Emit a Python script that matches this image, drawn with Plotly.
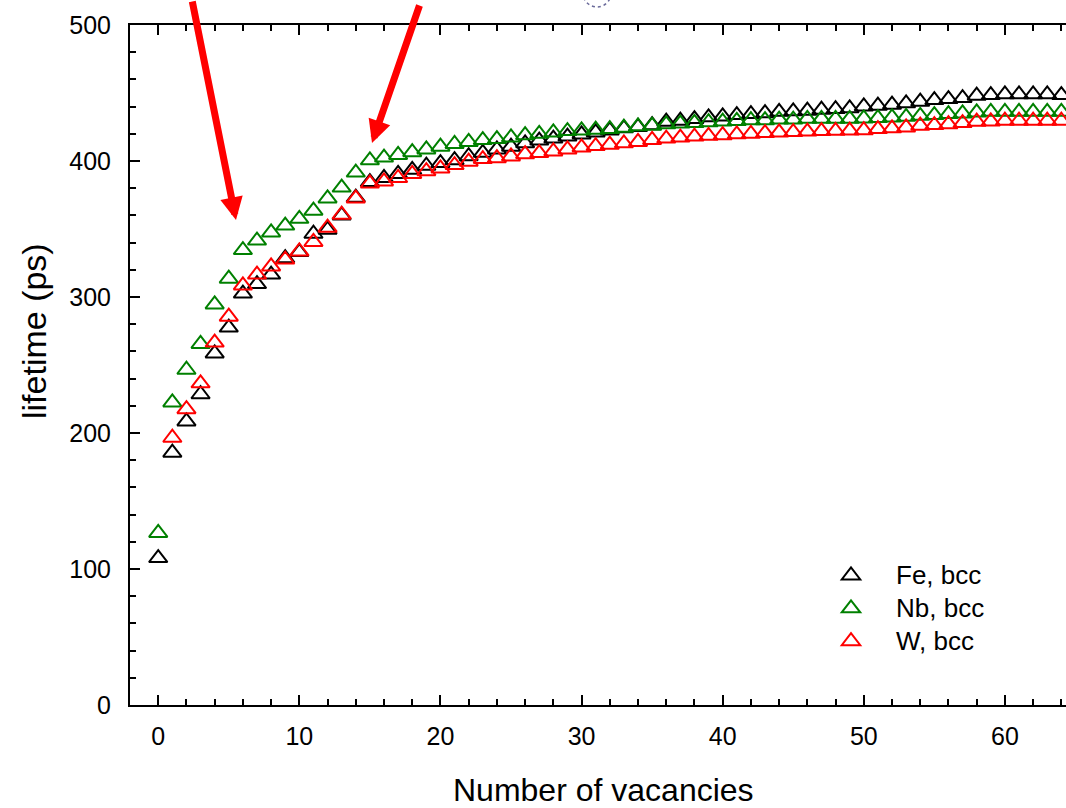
import plotly.graph_objects as go

# ---- data ----
x_fe = list(range(0, 65))
fe = [108, 185.5, 208.5, 228.5, 258.5, 277.5, 302.5, 309.5, 316.5, 328.5,
      333, 346.5, 349.5, 360, 373, 384.5, 387.5, 390.5, 393.5, 396.5,
      398.5, 400.6, 403.5, 406, 408.5, 410.5, 413, 415, 416.5, 418,
      419.5, 421, 422.5, 424, 425, 426.3, 428.9, 429.6, 430.8, 432.1,
      432.8, 433.8, 434.5, 435.2, 436.2, 436.5, 437, 437.7, 438.2, 438.7,
      440.1, 440.7, 441.4, 442.4, 443.6, 444.8, 445.5, 446.3, 448, 448.5,
      449, 449, 449, 449, 448.5]

x_nb = list(range(0, 65))
nb = [126.5, 222.5, 246.5, 265.5, 294.5, 313.5, 334.5, 341.5, 347.5, 352.5,
      357.5, 363.5, 372.5, 380.5, 391.5, 400.5, 402.5, 404.5, 406.5, 408.5,
      410.5, 412.5, 414, 415.4, 416.1, 417.3, 419, 420, 421, 422,
      422.5, 423, 423.5, 424.5, 425.5, 426, 427, 427.5, 428, 428.5,
      429, 429.5, 430, 430, 430.5, 430.5, 431, 431, 431, 431,
      431.3, 431.6, 432, 432.5, 433.2, 433.8, 434.5, 435, 435.7, 436.2,
      436.2, 436.2, 436.2, 436.2, 436.2]

x_w = list(range(1, 65))
w = [196.5, 217.5, 236.5, 266.5, 285.5, 308.5, 316.5, 322.5, 327.5, 333.5,
     340.5, 351, 360.5, 372.5, 383.5, 385, 387.5, 390.5, 392.5, 394.5,
     397, 399.5, 401.4, 402.1, 403.4, 405, 405.8, 407, 408.5, 410,
     411, 412, 413, 414, 415.5, 416.5, 417.2, 418, 418.5, 419,
     419.6, 420, 420.5, 421, 421.3, 421.6, 422, 422.2, 422.4, 422.7,
     423.5, 424, 424.7, 426, 426.4, 427.1, 427.9, 428.9, 429.1, 429.6,
     429.6, 429.6, 429.6, 429.6]

series = [
    ("Fe, bcc", x_fe, fe, "#000000"),
    ("Nb, bcc", x_nb, nb, "#008000"),
    ("W, bcc", x_w, w, "#ff0000"),
]

FONT = "Liberation Sans, Arial, sans-serif"

fig = go.Figure()
for name, xs, ys, col in series:
    fig.add_trace(go.Scatter(
        x=xs, y=ys, mode="markers",
        name="<span style='font-size:26px'>" + name + "</span>",
        marker=dict(symbol="triangle-up-open", size=16,
                    color=col, line=dict(color=col, width=2)),
    ))

axis_common = dict(
    showgrid=False, zeroline=False, showline=True, linecolor="#000000",
    linewidth=2, ticks="inside", ticklen=10, tickwidth=1.5, tickcolor="#000000",
    tickfont=dict(family=FONT, size=25, color="#000000"),
)

fig.update_xaxes(
    range=[-2.0, 64.33], tick0=0, dtick=10, mirror="ticks",
    minor=dict(ticks="inside", ticklen=6, tickwidth=1.5, tickcolor="#000000", dtick=2, tick0=0),
    ticklabelstandoff=8, **axis_common)
fig.update_yaxes(
    range=[0, 500], tick0=0, dtick=100,
    minor=dict(ticks="inside", ticklen=6, tickwidth=1.5, tickcolor="#000000", dtick=20, tick0=0),
    ticklabelstandoff=12, **axis_common)

L, T, R, B = 130, 25, 1066, 705
def px(xp):
    return (xp - L) / (R - L)
def py(yp):
    return (B - yp) / (B - T)

annotations = [
    dict(text="Number of vacancies", xref="paper", yref="paper", x=px(603), y=py(790),
         showarrow=False, xanchor="center", yanchor="middle",
         font=dict(family=FONT, size=32, color="#000000")),
    dict(text="lifetime (ps)", xref="paper", yref="paper", x=px(34), y=py(331),
         showarrow=False, xanchor="center", yanchor="middle", textangle=-90,
         font=dict(family=FONT, size=34, color="#000000")),
    # red arrows
    dict(text="", xref="paper", yref="paper", x=px(236), y=py(220), ax=-44, ay=-230,
         showarrow=True, arrowhead=2, arrowwidth=7, arrowsize=0.65, arrowcolor="#ff0000"),
    dict(text="", xref="paper", yref="paper", x=px(372), y=py(143), ax=48, ay=-139,
         showarrow=True, arrowhead=2, arrowwidth=7, arrowsize=0.65, arrowcolor="#ff0000"),
]

shapes = [
    dict(type="circle", xref="paper", yref="paper",
         x0=px(583), x1=px(611), y0=py(7), y1=py(-21),
         line=dict(color="#6a6a9a", width=1.5, dash="dot")),
]

fig.update_layout(
    width=1066, height=808,
    margin=dict(l=L, r=0, t=T, b=808 - B, pad=0),
    paper_bgcolor="#ffffff", plot_bgcolor="#ffffff",
    font=dict(family=FONT, size=24, color="#000000"),
    showlegend=True,
    legend=dict(x=px(806), y=py(554), xanchor="left", yanchor="top",
                bgcolor="rgba(0,0,0,0)", borderwidth=0, itemwidth=80,
                font=dict(family=FONT, size=23, color="#000000")),
    annotations=annotations,
    shapes=shapes,
)

fig.write_html("out.html")
